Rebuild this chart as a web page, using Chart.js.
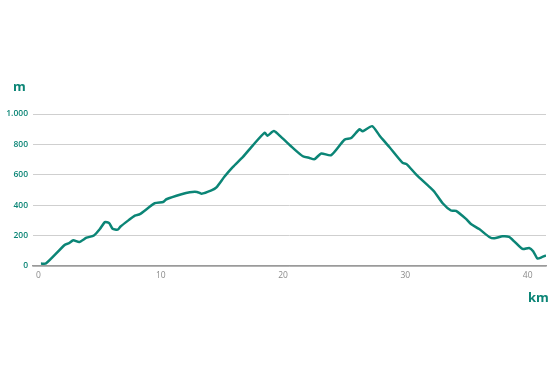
<!DOCTYPE html>
<html>
<head>
<meta charset="utf-8">
<script src="https://cdn.jsdelivr.net/npm/chart.js@4"></script>
<style>
  html, body { margin: 0; padding: 0; background: #fff; }
  #wrap { position: relative; width: 554px; height: 369px; }
  .unit { position: absolute; font-family: "Open Sans", sans-serif; font-weight: 700; color: #0b8576; }
</style>
</head>
<body>
<div id="wrap">
  <canvas id="profile" width="554" height="369"></canvas>
  <div class="unit" style="left:13px; top:77px; font-size:13px;">m</div>
  <div class="unit" style="left:528px; top:288px; font-size:13px;">km</div>
</div>
<script>
'use strict';

// distance (km) and elevation (m)
var km = [0.2, 0.6, 2.16, 2.5, 2.84, 3.33, 3.93, 4.53, 5.02, 5.43, 5.78, 6.06, 6.47, 6.71, 7.41, 7.88, 8.29,
  9.51, 10.19, 10.46, 11.69, 12.37, 12.96, 13.32, 14.14, 14.55, 15.2, 15.9, 16.72, 17.53, 18.49, 18.71,
  19.25, 19.85, 20.8, 21.62, 22.16, 22.57, 23.12, 23.93, 25.02, 25.57, 26.24, 26.51, 27.28, 27.88, 28.69,
  29.78, 30.1, 30.87, 32.1, 32.37, 33.05, 33.73, 34.14, 34.96, 35.36, 36.04, 36.86, 37.27, 37.94, 38.49,
  38.9, 39.58, 40.12, 40.45, 40.8, 41.16, 41.5];
var elevation = [16, 16, 140, 150, 169, 158, 186, 201, 243, 289, 282, 245, 239, 260, 304, 332, 341,
  413, 421, 439, 472, 485, 487, 476, 498, 518, 587, 652, 718, 794, 877, 857,
  888, 848, 777, 722, 711, 703, 740, 729, 831, 842, 899, 886, 920, 859, 783,
  678, 670, 603, 511, 489, 413, 365, 363, 310, 276, 243, 191, 182, 195, 191,
  162, 112, 119, 97, 49, 58, 69];
var kmTicks = [0, 10, 20, 30, 40];
var mTicks = [0, 200, 400, 600, 800, 1000];

var teal = '#0b8576';
var points = [];
for (var i = 0; i < km.length; i++) {
  points.push({ x: km[i], y: elevation[i] });
}

var ctx = document.getElementById('profile').getContext('2d');
var myChart = new Chart(ctx, {
  type: 'line',
  data: {
    datasets: [{
      data: points,
      borderColor: teal,
      borderWidth: 2.5,
      pointRadius: 0,
      tension: 0.2,
      fill: false,
    }],
  },
  options: {
    responsive: false,
    animation: false,
    layout: { padding: { top: 114, right: 8, bottom: 83, left: 0 } },
    plugins: { legend: { display: false }, tooltip: { enabled: false } },
    scales: {
      x: {
        type: 'linear',
        min: -0.45,
        max: 41.5,
        afterBuildTicks: function(scale) {
          scale.ticks = kmTicks.map(function(v) { return { value: v }; });
        },
        afterFit: function(scale) { scale.height = 20; },
        grid: { display: false, drawTicks: false },
        border: { display: true, color: '#9a9a9a', width: 1.5 },
        ticks: {
          color: '#8a8a8a',
          padding: 4,
          maxRotation: 0,
          font: { family: 'Open Sans', size: 8.5 },
        },
      },
      y: {
        min: 0,
        max: 1000,
        afterBuildTicks: function(scale) {
          scale.ticks = mTicks.map(function(v) { return { value: v }; });
        },
        afterFit: function(scale) { scale.width = 33; },
        grid: { color: '#cfcfcf', lineWidth: 1, drawTicks: false },
        border: { display: false },
        ticks: {
          color: teal,
          padding: 5,
          font: { family: 'Open Sans', size: 8.5, weight: '600' },
          callback: function(v) { return v === 1000 ? '1.000' : String(v); },
        },
      },
    },
  },
});
</script>
</body>
</html>
